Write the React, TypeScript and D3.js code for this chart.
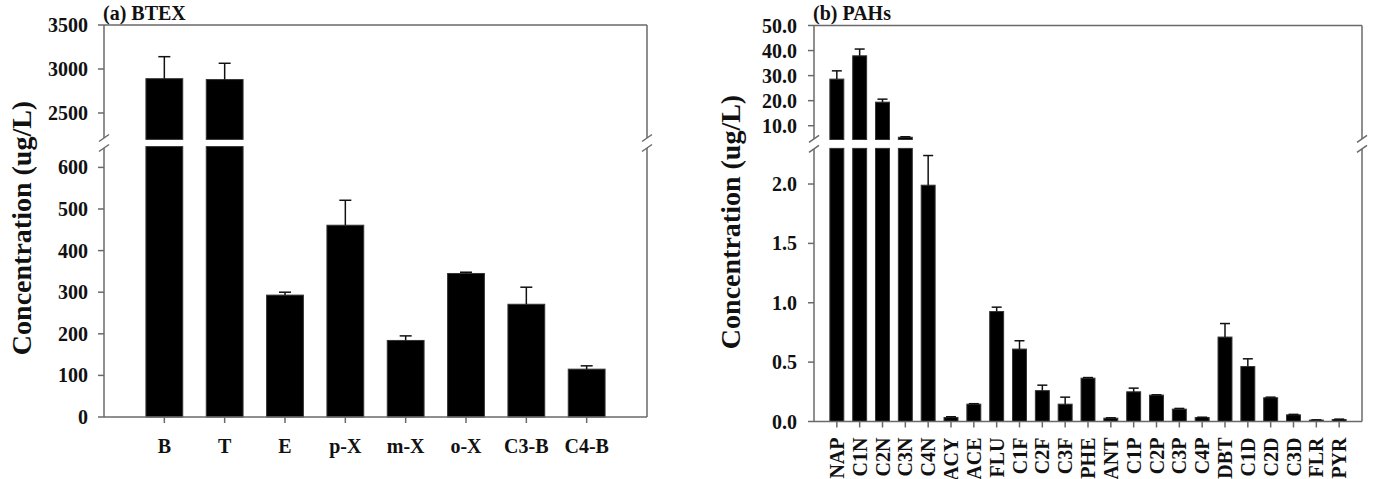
import React from "react";
import * as d3 from "d3";

// (a) BTEX
const btexLabels = ["B", "T", "E", "p-X", "m-X", "o-X", "C3-B", "C4-B"];
const btexMeans = [2890, 2880, 293, 461, 184, 345, 271, 115];
const btexErrors = [250, 185, 7, 60, 11, 3, 41, 8];
const btexLowTicks = [0, 100, 200, 300, 400, 500, 600];
const btexHighTicks = [2500, 3000, 3500];

// (b) PAHs
const pahLabels = [
  "NAP", "C1N", "C2N", "C3N", "C4N", "ACY", "ACE", "FLU", "C1F", "C2F", "C3F", "PHE",
  "ANT", "C1P", "C2P", "C3P", "C4P", "DBT", "C1D", "C2D", "C3D", "FLR", "PYR",
];
const pahMeans = [
  28.6, 37.9, 19.4, 5.4, 1.99, 0.034, 0.146, 0.926, 0.61, 0.26, 0.146, 0.365,
  0.028, 0.25, 0.222, 0.104, 0.034, 0.711, 0.463, 0.2, 0.056, 0.012, 0.017,
];
const pahErrors = [
  3.3, 2.7, 1.2, 0.2, 0.25, 0.006, 0.004, 0.037, 0.07, 0.046, 0.059, 0.005,
  0.003, 0.031, 0.003, 0.006, 0.002, 0.114, 0.065, 0.005, 0.004, 0.002, 0.003,
];
const pahLowTicks = [0, 0.5, 1.0, 1.5, 2.0];
const pahHighTicks = [10, 20, 30, 40, 50];

const FONT = "'Liberation Serif', 'Times New Roman', serif";
const AXIS = "#6a6a6a";

type ChartProps = {
  title: string;
  labels: string[];
  means: number[];
  errors: number[];
  lowTicks: number[];
  highTicks: number[];
  lowDomain: [number, number];
  highDomain: [number, number];
  left: number;
  right: number;
  top: number;
  bottom: number;
  lowTop: number;
  highBottom: number;
  cap: number;
  fmt: (v: number) => string;
  tickLabelX: number;
  yLabelX: number;
  yLabelY: number;
  rotateLabels: boolean;
};

const BreakMark = ({ x, y }: { x: number; y: number }) => (
  <g stroke={AXIS} strokeWidth={1.5}>
    <line x1={x - 5} y1={y - 1.5} x2={x + 5} y2={y - 8.5} />
    <line x1={x - 5} y1={y + 8.5} x2={x + 5} y2={y + 1.5} />
  </g>
);

const BrokenBarChart = (p: ChartProps) => {
  const x = d3.scalePoint<string>().domain(p.labels).range([p.left, p.right]).padding(1);
  const yLow = d3.scaleLinear().domain(p.lowDomain).range([p.bottom, p.lowTop]);
  const yHigh = d3.scaleLinear().domain(p.highDomain).range([p.highBottom, p.top]);
  const bw = x.step() * 0.61;
  const lowMax = p.lowDomain[1];
  const highMin = p.highDomain[0];
  const yOf = (v: number) => (v <= lowMax ? yLow(v) : yHigh(v));
  const breakY = (p.lowTop + p.highBottom) / 2;

  return (
    <g>
      {/* bars */}
      {p.labels.map((lab, i) => {
        const cx = x(lab)!;
        const v = p.means[i];
        const e = v + p.errors[i];
        return (
          <g key={lab}>
            {v <= lowMax ? (
              <rect x={cx - bw / 2} y={yLow(v)} width={bw} height={yLow(0) - yLow(v)}
                fill="#000" stroke="#333" strokeWidth={1} />
            ) : (
              <>
                <rect x={cx - bw / 2} y={yLow(lowMax)} width={bw} height={yLow(0) - yLow(lowMax)}
                  fill="#000" stroke="#333" strokeWidth={1} />
                <rect x={cx - bw / 2} y={yHigh(v)} width={bw} height={yHigh(highMin) - yHigh(v)}
                  fill="#000" stroke="#333" strokeWidth={1} />
              </>
            )}
            <line x1={cx} x2={cx} y1={yOf(v)} y2={yOf(e)} stroke="#111" strokeWidth={1.5} />
            <line x1={cx - p.cap / 2} x2={cx + p.cap / 2} y1={yOf(e)} y2={yOf(e)} stroke="#111" strokeWidth={1.5} />
          </g>
        );
      })}

      {/* frame */}
      <g stroke={AXIS} strokeWidth={1.5} fill="none">
        <line x1={p.left} x2={p.right} y1={p.top} y2={p.top} />
        <line x1={p.left} x2={p.right} y1={p.bottom} y2={p.bottom} />
        <line x1={p.left} x2={p.left} y1={p.top} y2={breakY - 5} />
        <line x1={p.left} x2={p.left} y1={breakY + 5} y2={p.bottom} />
        <line x1={p.right} x2={p.right} y1={p.top} y2={breakY - 5} />
        <line x1={p.right} x2={p.right} y1={breakY + 5} y2={p.bottom} />
      </g>
      <BreakMark x={p.left} y={breakY} />
      <BreakMark x={p.right} y={breakY} />

      {/* y ticks */}
      {p.lowTicks.map((t) => (
        <g key={"l" + t}>
          <line x1={p.left - 6} x2={p.left} y1={yLow(t)} y2={yLow(t)} stroke={AXIS} strokeWidth={1.5} />
          <text x={p.tickLabelX} y={yLow(t)} dy="0.35em" textAnchor="end" fontFamily={FONT}
            fontWeight="bold" fontSize={20} fill="#111">{p.fmt(t)}</text>
        </g>
      ))}
      {p.highTicks.map((t) => (
        <g key={"h" + t}>
          <line x1={p.left - 6} x2={p.left} y1={yHigh(t)} y2={yHigh(t)} stroke={AXIS} strokeWidth={1.5} />
          <text x={p.tickLabelX} y={yHigh(t)} dy="0.35em" textAnchor="end" fontFamily={FONT}
            fontWeight="bold" fontSize={20} fill="#111">{p.fmt(t)}</text>
        </g>
      ))}

      {/* x ticks & labels */}
      {p.labels.map((lab) => (
        <g key={"x" + lab}>
          <line x1={x(lab)} x2={x(lab)} y1={p.bottom} y2={p.bottom + 6} stroke={AXIS} strokeWidth={1.5} />
          {p.rotateLabels ? (
            <text transform={`translate(${x(lab)! + 7},${p.bottom + 16}) rotate(-90)`} textAnchor="end"
              fontFamily={FONT} fontWeight="bold" fontSize={20} fill="#111">{lab}</text>
          ) : (
            <text x={x(lab)} y={p.bottom + 36} textAnchor="middle" fontFamily={FONT}
              fontWeight="bold" fontSize={20} fill="#111">{lab}</text>
          )}
        </g>
      ))}

      <text x={p.left - 1} y={20} fontFamily={FONT} fontWeight="bold" fontSize={20} fill="#111">{p.title}</text>
      <text transform={`translate(${p.yLabelX},${p.yLabelY}) rotate(-90)`} textAnchor="middle"
        fontFamily={FONT} fontWeight="bold" fontSize={28} fill="#111">Concentration (ug/L)</text>
    </g>
  );
};

const App = () => {
  return (
    <div style={{ position: "absolute", left: 0, top: 0 }}>
      <svg width={1382} height={479} style={{ display: "block", background: "#fff" }}>
        <BrokenBarChart
          title="(a) BTEX"
          labels={btexLabels}
          means={btexMeans}
          errors={btexErrors}
          lowTicks={btexLowTicks}
          highTicks={btexHighTicks}
          lowDomain={[0, 650]}
          highDomain={[2200, 3500]}
          left={104}
          right={647}
          top={25}
          bottom={417}
          lowTop={146.6}
          highBottom={139.4}
          cap={12}
          fmt={(v) => String(v)}
          tickLabelX={88}
          yLabelX={31}
          yLabelY={228}
          rotateLabels={false}
        />
        <BrokenBarChart
          title="(b) PAHs"
          labels={pahLabels}
          means={pahMeans}
          errors={pahErrors}
          lowTicks={pahLowTicks}
          highTicks={pahHighTicks}
          lowDomain={[0, 2.3]}
          highDomain={[4.5, 50]}
          left={814}
          right={1362}
          top={25.5}
          bottom={421.5}
          lowTop={148.4}
          highBottom={139.5}
          cap={10}
          fmt={d3.format(".1f")}
          tickLabelX={797}
          yLabelX={740}
          yLabelY={222}
          rotateLabels={true}
        />
      </svg>
    </div>
  );
};

export default App;
